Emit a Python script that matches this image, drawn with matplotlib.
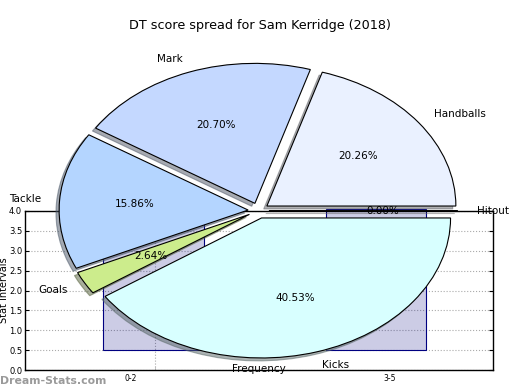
import matplotlib
matplotlib.use("Agg")
import matplotlib.pyplot as plt

# ---- data ----
title = "DT score spread for Sam Kerridge (2018)"
pie_labels = ["Handballs", "Mark", "Tackle", "Goals", "Kicks", "Hitout"]
pie_values = [20.26, 20.70, 15.86, 2.64, 40.53, 0.00]
pie_colors = ["#eaf1ff", "#c4d8ff", "#b4d5ff", "#ccec8c", "#d8ffff", "#ffffff"]

bar_labels = ["0-2", "3-5"]
bar_bottoms = [0.5, 0.5]
bar_tops = [4.05, 4.05]

# ---- figure ----
fig = plt.figure(figsize=(5.2, 3.9), dpi=100)

# background histogram-like axes
W, H = 520.0, 390.0
axb = fig.add_axes([25 / W, (H - 370) / H, 468 / W, 159 / H])
bar_pos = [0.05, 1.0]
grid_pos = [0.056, 1.06]
label_pos = [-0.05, 1.06]
heights = [t - b for t, b in zip(bar_tops, bar_bottoms)]
axb.bar(bar_pos, heights, bottom=bar_bottoms, width=0.43,
        facecolor=(0, 0, 0.5, 0.2), edgecolor="navy", linewidth=0.8,
        clip_on=False, zorder=2)
axb.set_xlim(-0.5, 1.5)
axb.set_ylim(0, 4.0)
axb.set_yticks([0, 0.5, 1, 1.5, 2, 2.5, 3, 3.5, 4])
axb.set_yticklabels(["0.0", "0.5", "1.0", "1.5", "2.0", "2.5", "3.0", "3.5", "4.0"])
axb.set_xticks(label_pos)
axb.set_xticklabels(bar_labels, fontsize=5.5)
axb.set_xticks(grid_pos, minor=True)
axb.tick_params(axis="x", which="major", length=0, pad=3)
axb.tick_params(axis="x", which="minor", length=3, direction="in",
                top=True, bottom=True, color="#bbbbbb")
axb.tick_params(axis="y", labelsize=6, direction="in", length=3,
                right=True, pad=2)
axb.grid(True, axis="y", which="major", linestyle=":", color="#aaaaaa", linewidth=0.8)
axb.grid(True, axis="x", which="minor", linestyle=":", color="#aaaaaa", linewidth=0.8)
for s in axb.spines.values():
    s.set_linewidth(1.0)
axb.set_xlabel("Frequency", fontsize=7.5)
axb.xaxis.set_label_coords(0.5, 0.035)
axb.set_ylabel("Stat Intervals", fontsize=7)
axb.yaxis.set_label_coords(-0.034, 0.5)

# pie axes over the whole figure (elliptical pie)
axp = fig.add_axes([0, 0, 1, 1])
axp.patch.set_alpha(0)
cx, cy, rx, ry = 258.5, 210.6, 189.0, 140.0
axp.pie(pie_values, labels=pie_labels, colors=pie_colors,
        explode=[0.055] * len(pie_values),
        shadow=dict(ox=-0.012, oy=-0.015, shade=0.6),
        startangle=0,
        autopct="%1.2f%%", labeldistance=1.1, pctdistance=0.6,
        wedgeprops=dict(edgecolor="black", linewidth=0.8),
        textprops=dict(fontsize=7.5))
axp.set_aspect("auto")
axp.set_xlim(-cx / rx, (W - cx) / rx)
axp.set_ylim((cy - H) / ry, cy / ry)
axp.set_axis_off()

fig.text(0.5, 1 - 26 / H, title, ha="center", va="center", fontsize=9.2)
fig.text(0.0, 1 - 381 / H, "Dream-Stats.com", ha="left", va="center",
         fontsize=7.8, color="#9a9a9a", fontweight="bold")

fig.savefig("out.png", dpi=100)
